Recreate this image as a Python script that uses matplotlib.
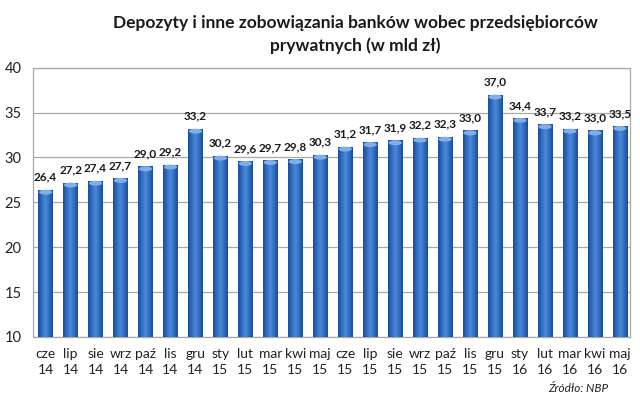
import matplotlib
matplotlib.use("Agg")
import matplotlib.pyplot as plt
import numpy as np
from matplotlib.colors import LinearSegmentedColormap
from matplotlib.patches import Ellipse

months = ["cze", "lip", "sie", "wrz", "paź", "lis", "gru", "sty", "lut", "mar", "kwi", "maj",
          "cze", "lip", "sie", "wrz", "paź", "lis", "gru", "sty", "lut", "mar", "kwi", "maj"]
years = ["14"] * 7 + ["15"] * 12 + ["16"] * 5
values = [26.4, 27.2, 27.4, 27.7, 29.0, 29.2, 33.2, 30.2, 29.6, 29.7, 29.8, 30.3,
          31.2, 31.7, 31.9, 32.2, 32.3, 33.0, 37.0, 34.4, 33.7, 33.2, 33.0, 33.5]
labels = [f"{m}\n{y}" for m, y in zip(months, years)]
title = "Depozyty i inne zobowiązania banków wobec przedsiębiorców\nprywatnych (w mld zł)"
source = "Źródło: NBP"

plt.rcParams['font.family'] = ['Lato', 'DejaVu Sans']

fig = plt.figure(figsize=(6.4, 4.05), dpi=100)
ax = fig.add_axes([0.051, 0.168, 0.934, 0.665])

x = np.arange(len(values))
bars = ax.bar(x, values, width=0.575, color="#2E67B8", zorder=3)

cmap = LinearSegmentedColormap.from_list("cyl", ["#1B4C95", "#2F6DC2", "#4F8AD8", "#2F6DC2", "#1B4C95"])
grad = np.linspace(0, 1, 64).reshape(1, -1)
cap_h = 0.55
for b in bars:
    x0, w, h = b.get_x(), b.get_width(), b.get_height()
    im = ax.imshow(grad, cmap=cmap, aspect="auto", extent=[x0, x0 + w, 10, h],
                   zorder=4, interpolation="bicubic")
    im.set_clip_path(b)
    ax.add_patch(Ellipse((x0 + w / 2, h - cap_h / 2), w * 0.92, cap_h,
                         facecolor="#7FAEEA", edgecolor="none", zorder=5))

for xi, v in zip(x, values):
    ax.annotate(f"{v:.1f}".replace(".", ","), (xi, v), xytext=(0, 5), textcoords="offset points",
                ha="center", va="bottom", fontsize=8.5, fontweight="bold", color="#1a1a1a", zorder=6)

ax.set_ylim(10, 40)
ax.set_xlim(-0.52, 23.42)
ax.set_yticks(range(10, 41, 5))
ax.set_xticks(x)
ax.set_xticklabels(labels, fontsize=10, color="#222222", linespacing=1.35)
ax.tick_params(axis="y", labelsize=10.5, colors="#222222", length=0, pad=8)
ax.tick_params(axis="x", length=0, pad=8)
ax.grid(axis="y", color="#A8A8A8", linewidth=0.9, zorder=0)
for s in ax.spines.values():
    s.set_color("#A8A8A8")
    s.set_linewidth(0.9)

fig.text(0.555, 0.963, title, ha="center", va="top", fontsize=12.5, fontweight="bold",
         color="#1a1a1a", linespacing=1.5)
fig.text(0.903, 0.04, source, ha="center", va="center", fontsize=8.5, style="italic", color="#222222")

fig.savefig("out.png", dpi=100)
